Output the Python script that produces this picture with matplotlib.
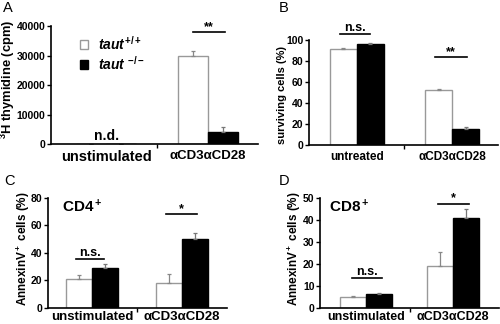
import matplotlib
matplotlib.use("Agg")
import matplotlib.pyplot as plt
import numpy as np

plt.rcParams['font.family'] = ['Liberation Sans', 'DejaVu Sans']
plt.rcParams['font.weight'] = 'bold'
plt.rcParams['axes.labelweight'] = 'bold'
plt.rcParams['mathtext.fontset'] = 'custom'
plt.rcParams['mathtext.rm'] = 'Liberation Sans:bold'
plt.rcParams['mathtext.bf'] = 'Liberation Sans:bold'
plt.rcParams['mathtext.it'] = 'Liberation Sans:italic:bold'

# data
groups_a = ["unstimulated", "αCD3αCD28"]
thy_wt = [0, 30000]
thy_wt_err = [0, 1500]
thy_ko = [0, 4200]
thy_ko_err = [0, 1500]

groups_b = ["untreated", "αCD3αCD28"]
surv_wt = [91.5, 52]
surv_wt_err = [1, 1]
surv_ko = [96.5, 15]
surv_ko_err = [1, 2]

groups_c = ["unstimulated", "αCD3αCD28"]
cd4_wt = [21, 18.4]
cd4_wt_err = [2.8, 6]
cd4_ko = [29, 50.4]
cd4_ko_err = [2.7, 4.3]

groups_d = ["unstimulated", "αCD3αCD28"]
cd8_wt = [5, 19.2]
cd8_wt_err = [0.5, 6.3]
cd8_ko = [6.3, 41]
cd8_ko_err = [0.5, 3.9]


def panel(ax, groups, wt, wt_err, ko, ko_err, xlim, w, sizes, pad=4):
    x = np.arange(len(groups))
    b1 = ax.bar(x - w/2, wt, w, color='white', edgecolor='#999999', lw=1)
    b2 = ax.bar(x + w/2, ko, w, color='black', edgecolor='black', lw=1)
    ax.errorbar(x - w/2, wt, yerr=[np.zeros(len(x)), wt_err], fmt='none',
                ecolor='#888888', elinewidth=0.9, capsize=1.5, capthick=0.9)
    ax.errorbar(x + w/2, ko, yerr=[np.zeros(len(x)), ko_err], fmt='none',
                ecolor='#777777', elinewidth=0.9, capsize=1.5, capthick=0.9)
    ax.set_xlim(*xlim)
    for s in ['top', 'right']:
        ax.spines[s].set_visible(False)
    for s in ['left', 'bottom']:
        ax.spines[s].set_linewidth(1.2)
    ax.set_xticks([0.5])
    ax.set_xticklabels([])
    ax.set_xticks(x, groups, minor=True)
    ax.tick_params(axis='x', which='major', length=3, width=1)
    ax.tick_params(axis='x', which='minor', length=0, pad=pad)
    ax.tick_params(axis='y', length=3, width=1, pad=1, labelsize=7.5)
    for lab in ax.get_yticklabels():
        lab.set_fontweight('bold')
    for lab, s in zip(ax.get_xticklabels(minor=True), sizes):
        lab.set_fontsize(s)
        lab.set_fontweight('bold')
    return b1, b2


def sig(ax, x0, x1, y, txt, dy):
    ax.plot([x0, x1], [y, y], color='black', lw=1.2, clip_on=False)
    ax.text((x0 + x1)/2, y + dy, txt, ha='center', va='bottom',
            fontsize=9, fontweight='bold', clip_on=False)


fig = plt.figure(figsize=(5, 3.24), dpi=100)

# A
axA = fig.add_axes([0.102, 0.5556, 0.414, 0.364])
h1, h2 = panel(axA, groups_a, thy_wt, thy_wt_err, thy_ko, thy_ko_err,
               (-0.54, 1.49), 0.29, [10.5, 9.5])
axA.set_ylim(0, 40000)
axA.set_yticks([0, 10000, 20000, 30000, 40000])
axA.set_ylabel("$^{3}$H thymidine (cpm)", fontsize=9.3)
axA.yaxis.set_label_coords(-0.165, 0.55)
axA.text(0, 400, "n.d.", ha='center', va='bottom', fontsize=10)
sig(axA, 0.85, 1.17, 38000, "**", -300)
axA.legend([h1, h2], ["$taut^{+/+}$", "$taut\\ ^{-/-}$"], loc='upper left',
           bbox_to_anchor=(0.1, 1.0), frameon=False, fontsize=10,
           handlelength=0.6, handleheight=0.6, handletextpad=0.7,
           labelspacing=0.15, borderaxespad=0.2)

# B
axB = fig.add_axes([0.618, 0.5525, 0.378, 0.324])
panel(axB, groups_b, surv_wt, surv_wt_err, surv_ko, surv_ko_err,
      (-0.5, 1.48), 0.284, [8.5, 8.5])
axB.set_ylim(0, 100)
axB.set_yticks([0, 20, 40, 60, 80, 100])
axB.set_ylabel("surviving cells (%)", fontsize=8)
axB.yaxis.set_label_coords(-0.116, 0.48)
sig(axB, -0.18, 0.14, 105.7, "n.s.", 0.5)
sig(axB, 0.82, 1.15, 83.9, "**", -1)

# C
axC = fig.add_axes([0.096, 0.0494, 0.358, 0.3395])
panel(axC, groups_c, cd4_wt, cd4_wt_err, cd4_ko, cd4_ko_err,
      (-0.49, 1.5), 0.29, [9.5, 9.5], pad=2.5)
axC.set_ylim(0, 80)
axC.set_yticks([0, 20, 40, 60, 80])
axC.set_ylabel("AnnexinV$^+$ cells (%)", fontsize=8.5)
axC.yaxis.set_label_coords(-0.089, 0.54)
axC.text(0.078, 1.0, "CD4$^+$", transform=axC.transAxes, ha='left',
         va='top', fontsize=11)
sig(axC, -0.18, 0.13, 35.4, "n.s.", 0.3)
sig(axC, 0.82, 1.17, 68.1, "*", -0.5)

# D
axD = fig.add_axes([0.64, 0.0494, 0.358, 0.3395])
panel(axD, groups_d, cd8_wt, cd8_wt_err, cd8_ko, cd8_ko_err,
      (-0.525, 1.525), 0.296, [9, 9], pad=2.5)
axD.set_ylim(0, 50)
axD.set_yticks([0, 10, 20, 30, 40, 50])
axD.set_ylabel("AnnexinV$^+$ cells (%)", fontsize=8.5)
axD.yaxis.set_label_coords(-0.094, 0.536)
axD.text(0.05, 1.0, "CD8$^+$", transform=axD.transAxes, ha='left',
         va='top', fontsize=11)
sig(axD, -0.16, 0.19, 13.6, "n.s.", 0.2)
sig(axD, 0.83, 1.18, 47.4, "*", -0.3)

# panel letters
for lx, ly, t in [(3, 1, "A"), (279, 1, "B"), (4, 174, "C"), (279, 174, "D")]:
    fig.text(lx/500, 1 - ly/324, t, ha='left', va='top', fontsize=10.5,
             fontweight='normal')

fig.savefig("out.png", dpi=100)
